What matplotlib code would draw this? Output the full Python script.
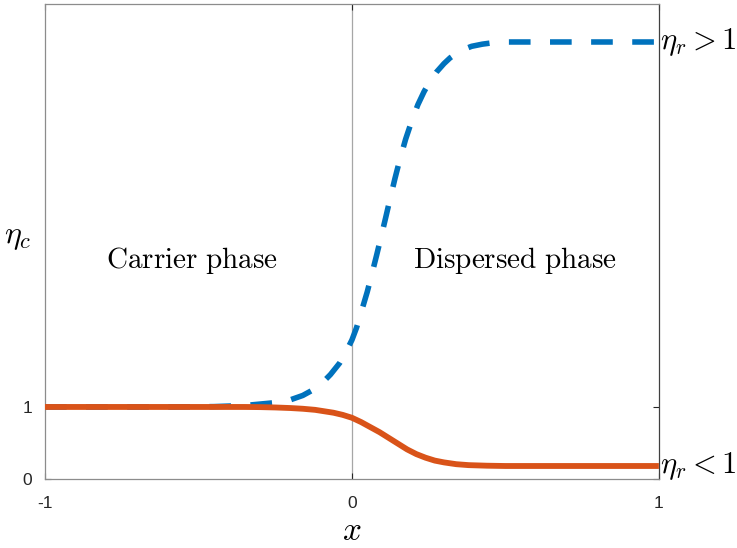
import matplotlib
matplotlib.use('Agg')
import matplotlib.pyplot as plt

# dispersed phase viscosity ratio > 1 (blue dashed)
x_hi = [-1.0, -0.6, -0.45, -0.35, -0.3, -0.25, -0.2, -0.16, -0.13, -0.1, -0.07,
        -0.04, -0.02, 0.0, 0.015, 0.034, 0.05, 0.064, 0.08, 0.096, 0.11, 0.122,
        0.14, 0.155, 0.175, 0.197, 0.215, 0.235, 0.255, 0.275, 0.3, 0.32, 0.34,
        0.36, 0.39, 0.425, 0.46, 0.5, 0.6, 0.8, 1.0]
y_hi = [1.0, 1.0, 1.005, 1.02, 1.04, 1.06, 1.1, 1.16, 1.23, 1.32, 1.45,
        1.61, 1.76, 1.93, 2.1, 2.37, 2.6, 2.83, 3.1, 3.38, 3.63, 3.85,
        4.17, 4.42, 4.72, 5.0, 5.2, 5.38, 5.53, 5.65, 5.77, 5.85, 5.91,
        5.96, 6.01, 6.04, 6.06, 6.07, 6.07, 6.07, 6.07]

# dispersed phase viscosity ratio < 1 (orange solid)
x_lo = [-1.0, -0.5, -0.35, -0.3, -0.25, -0.2, -0.16, -0.12, -0.09, -0.06, -0.03,
        0.0, 0.03, 0.06, 0.09, 0.12, 0.15, 0.18, 0.21, 0.24, 0.27, 0.3, 0.34,
        0.38, 0.44, 0.5, 0.6, 1.0]
y_lo = [1.0, 1.0, 1.0, 0.998, 0.993, 0.985, 0.975, 0.96, 0.94, 0.92, 0.89,
        0.85, 0.79, 0.72, 0.65, 0.57, 0.49, 0.41, 0.345, 0.295, 0.255, 0.23, 0.205,
        0.192, 0.184, 0.18, 0.18, 0.18]

x_ticks = [-1, 0, 1]
y_ticks = [0, 1]
y_max = 6.6

plt.rcParams['mathtext.fontset'] = 'cm'
plt.rcParams['font.family'] = ['Liberation Sans', 'DejaVu Sans']

fig = plt.figure(figsize=(7.37, 5.48), dpi=100)
ax = fig.add_axes([0.061, 0.126, 0.833, 0.867])

ax.axvline(0, color='#a6a6a6', lw=0.9, zorder=1)
ax.plot(x_hi, y_hi, color='#0072BD', lw=4, ls=(0, (3.9, 3.5)),
        dash_capstyle='butt', zorder=2)
ax.plot(x_lo, y_lo, color='#D95319', lw=4.2, solid_capstyle='butt', zorder=3)

ax.set_xlim(-1, 1)
ax.set_ylim(0, y_max)
ax.set_xticks(x_ticks)
ax.set_xticklabels([str(t) for t in x_ticks])
ax.set_yticks(y_ticks)
ax.set_yticklabels([str(t) for t in y_ticks])
ax.tick_params(direction='in', length=4, labelsize=12.5, colors='#262626',
               top=True, right=True, pad=9)
ax.tick_params(axis='x', pad=12)
for s in ['left', 'top', 'bottom']:
    ax.spines[s].set_color('#8c8c8c')
ax.spines['right'].set_color('#404040')
for s in ax.spines.values():
    s.set_linewidth(0.9)

ax.set_xlabel(r'$x$', fontsize=24, labelpad=4)
ax.set_ylabel(r'$\eta_c$', fontsize=23, rotation=0, va='center')
ax.yaxis.set_label_coords(-0.045, 0.51)

ax.text(-0.52, 3.04, r'$\mathrm{Carrier\ phase}$', fontsize=21,
        ha='center', va='center')
ax.text(0.53, 3.04, r'$\mathrm{Dispersed\ phase}$', fontsize=21,
        ha='center', va='center')

ax.text(1.005, 6.07, r'$\eta_r > 1$', fontsize=22, ha='left', va='center')
ax.text(1.005, 0.18, r'$\eta_r < 1$', fontsize=22, ha='left', va='center')

fig.savefig('out.png', dpi=100)
